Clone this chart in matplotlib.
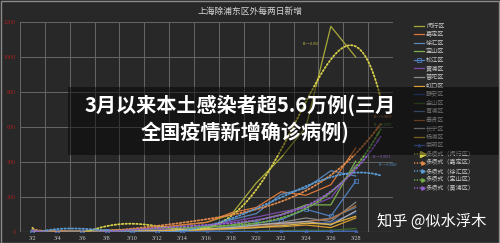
import numpy as np
import matplotlib.pyplot as plt
from matplotlib.lines import Line2D
from matplotlib.patches import Rectangle

plt.rcParams['font.family'] = ['Noto Sans CJK SC', 'DejaVu Sans']

# ---- data -------------------------------------------------------------
dates = ['3/2', '3/4', '3/6', '3/8', '3/10', '3/12', '3/14',
         '3/16', '3/18', '3/20', '3/22', '3/24', '3/26', '3/28']

minhang   = [3, 5, 8, 10, 14, 20, 40, 55, 100, 280, 425, 600, 1175, 1000]
jiading   = [5, 8, 8, 10, 15, 25, 40, 55, 110, 140, 230, 210, 270, 480]
xuhui     = [2, 3, 5, 8, 10, 12, 18, 25, 70, 105, 215, 250, 350, 320]
baoshan   = [2, 3, 4, 6, 8, 10, 15, 25, 40, 65, 100, 155, 155, 405]
songjiang = [1, 1, 2, 3, 3, 5, 8, 15, 30, 50, 70, 130, 90, 290]
huangpu   = [1, 2, 3, 5, 8, 12, 20, 35, 60, 85, 115, 140, 195, 380]
putuo     = [1, 2, 2, 3, 5, 6, 10, 15, 25, 40, 55, 80, 60, 170]
hongkou   = [1, 1, 2, 3, 5, 8, 10, 15, 20, 30, 30, 40, 25, 80]
jingan    = [0, 1, 1, 2, 3, 5, 8, 12, 20, 30, 35, 50, 55, 110]
jinshan   = [0, 0, 0, 1, 1, 1, 2, 3, 5, 6, 8, 10, 10, 20]
qingpu    = [0, 1, 1, 2, 3, 4, 6, 10, 15, 25, 40, 60, 80, 140]
fengxian  = [0, 1, 1, 2, 3, 5, 8, 12, 20, 30, 45, 60, 75, 150]
changning = [0, 1, 2, 3, 5, 8, 12, 18, 25, 40, 50, 60, 40, 120]
yangpu    = [1, 1, 2, 3, 5, 6, 10, 15, 20, 25, 35, 50, 45, 90]
chongming = [0, 0, 0, 0, 0, 0, 1, 1, 2, 2, 3, 3, 4, 5]

names = ['闵行区', '嘉定区', '徐汇区', '宝山区', '松江区', '黄浦区', '普陀区', '虹口区',
         '静安区', '金山区', '青浦区', '奉贤区', '长宁区', '杨浦区', '崇明区']
series = [minhang, jiading, xuhui, baoshan, songjiang, huangpu, putuo, hongkou,
          jingan, jinshan, qingpu, fengxian, changning, yangpu, chongming]
colors = ['#a8a83a', '#d9773a', '#5b86b8', '#7ab04c', '#4f7fc0', '#7a4aa8', '#8a8a8a',
          '#d9a030', '#2f5597', '#3f6a2a', '#5d7fa8', '#b8703a', '#b0b0b0', '#e0b040',
          '#4a74c8']
markers = [None, None, None, None, 's', None, None, None,
           None, None, None, None, None, None, '^']

# polynomial trend lines
trend_idx = [0, 1, 2, 3, 5]
trend_order = [5, 4, 4, 4, 4]
trend_colors = ['#d8d048', '#e08a4a', '#5b9bd5', '#70ad47', '#9060c8']
trend_r2 = ['R² = 0.935', 'R² = 0.9899', 'R² = 0.9949', 'R² = 0.9747', 'R² = 0.9971']
trend_label_xy = [(10.9, 1070), (13.75, 650), (13.95, 375), (13.75, 605), (13.7, 425)]

BG = '#282828'
GRID = '#666666'
TXT = '#c8c8c8'

W, H = 500, 243
fig = plt.figure(figsize=(W / 100, H / 100), dpi=100, facecolor=BG)

def fx(px):
    return px / W

def fy(py):
    return 1 - py / H

ax = fig.add_axes([fx(20), fy(232), fx(393) - fx(20), fy(22) - fy(232)])
ax.set_facecolor(BG)

x = np.arange(len(dates))
ax.set_xlim(-0.5, len(dates) + 0.5)
ax.set_ylim(0, 1200)

# gridlines
for gx in np.arange(-0.5, len(dates) + 1, 1.0):
    ax.axvline(gx, color=GRID, lw=0.7, zorder=0)
for gy in range(200, 1201, 200):
    ax.axhline(gy, color=GRID, lw=0.7, zorder=0)
ax.axhline(0, color='#9a9a9a', lw=0.8, zorder=1)
for s in ax.spines.values():
    s.set_visible(False)

ax.set_xticks(x)
ax.set_xticklabels(dates, family='Liberation Serif', fontsize=4.3, color=TXT)
ax.set_yticks(range(0, 1201, 200))
ax.set_yticklabels([str(v) for v in range(0, 1201, 200)], family='Liberation Serif',
                   fontsize=4.3, color='#a52020')
ax.tick_params(length=0, pad=3)

# district lines
for vals, c, m in zip(series, colors, markers):
    ax.plot(x, vals, color=c, lw=0.9, marker=m, ms=2.2, mfc='none', mew=0.6, zorder=3)

# trend lines, one period forward
xf = np.linspace(0, len(dates), 300)
for k, order, c, r2, (lx, ly) in zip(trend_idx, trend_order, trend_colors, trend_r2,
                                     trend_label_xy):
    coef = np.polyfit(x, series[k], order)
    yf = np.polyval(coef, xf)
    ax.plot(xf, yf, color=c, lw=1.3, ls=(0, (0.8, 1.2)), dash_capstyle='round', zorder=4)
    ax.annotate('', xy=(xf[-1], yf[-1]), xytext=(xf[-6], yf[-6]),
                arrowprops=dict(arrowstyle='-|>', color=c, lw=0, mutation_scale=5),
                annotation_clip=False, zorder=5)
    ax.text(lx, ly, r2, fontsize=2.6, color=c, family='Liberation Serif', zorder=5)

# title
fig.text(0.5, fy(11), '上海除浦东区外每两日新增', ha='center', va='center',
         fontsize=6.3, color='#d8d8d8')

# legend
lx0, lx1, tx = 414, 424, 426
row0, dy = 25.7, 8.55
entries = [(n, c, m, False) for n, c, m in zip(names, colors, markers)]
entries += [('多项式（%s）' % names[k], c, None, True) for k, c in zip(trend_idx, trend_colors)]
for i, (label, c, m, is_trend) in enumerate(entries):
    yy = fy(row0 + i * dy)
    if is_trend:
        fig.add_artist(Line2D([fx(lx0), fx(lx1 - 2)], [yy, yy], color=c, lw=1.1,
                              ls=(0, (0.8, 1.0)), transform=fig.transFigure))
        ms = 4.5 if i == 15 else 2.5
        fig.add_artist(Line2D([fx(lx1 - 1)], [yy], marker='>', ms=ms, color=c, lw=0,
                              transform=fig.transFigure))
    else:
        fig.add_artist(Line2D([fx(lx0), fx(lx1)], [yy, yy], color=c, lw=0.9,
                              transform=fig.transFigure))
        if m:
            fig.add_artist(Line2D([fx((lx0 + lx1) / 2)], [yy], marker=m, ms=2.2, mfc='none',
                                  mew=0.6, color=c, lw=0, transform=fig.transFigure))
    fig.text(fx(tx), yy, label, fontsize=4.4, color=TXT, va='center', ha='left')

# headline banner
fig.add_artist(Rectangle((fx(68), fy(155)), 1 - fx(68), fy(87) - fy(155),
                         transform=fig.transFigure, facecolor='#000000', alpha=0.45,
                         edgecolor='none', zorder=10))
fig.text(fx(240), fy(105), '3月以来本土感染者超5.6万例(三月', ha='center', va='center',
         fontsize=14.5, weight='heavy', color='white', zorder=11)
fig.text(fx(245), fy(132), '全国疫情新增确诊病例)', ha='center', va='center',
         fontsize=14.5, weight='heavy', color='white', zorder=11)

# watermark
fig.text(fx(432), fy(221), '知乎 @似水浮木', ha='center', va='center',
         fontsize=11, color='white', zorder=11)

# outer frame
fig.add_artist(Rectangle((0.001, 0.002), 0.997, 0.995, transform=fig.transFigure,
                         facecolor='none', edgecolor='#8a8a8a', lw=1.0, zorder=12))

fig.savefig('out.png', dpi=100, facecolor=BG)
